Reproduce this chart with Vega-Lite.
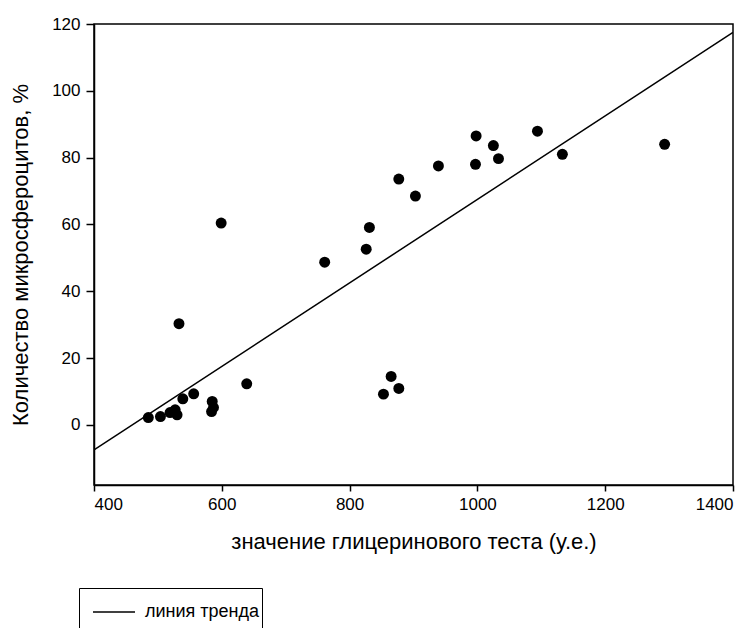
{
  "$schema": "https://vega.github.io/schema/vega-lite/v6.json",
  "width": 639,
  "height": 461,
  "autosize": {"type": "none"},
  "padding": {"left": 94, "top": 24, "right": 22, "bottom": 143},
  "background": "white",
  "config": {
    "view": {"stroke": "black", "strokeWidth": 1.5},
    "font": "Liberation Sans",
    "axis": {
      "grid": false,
      "domainColor": "black",
      "domainWidth": 1.5,
      "tickColor": "black",
      "tickWidth": 1.5,
      "labelColor": "black",
      "titleColor": "black",
      "labelFont": "Liberation Sans",
      "titleFont": "Liberation Sans",
      "labelFontSize": 17,
      "titleFontSize": 22,
      "titleFontWeight": "normal"
    }
  },
  "datasets": {
    "pts": [
      {"x": 485, "y": 2.2}, {"x": 504, "y": 2.5}, {"x": 519, "y": 3.7}, {"x": 527, "y": 4.5},
      {"x": 530, "y": 3.0}, {"x": 533, "y": 30.3}, {"x": 539, "y": 7.8}, {"x": 556, "y": 9.3},
      {"x": 585, "y": 7.0}, {"x": 584, "y": 4.0}, {"x": 587, "y": 5.2}, {"x": 639, "y": 12.3},
      {"x": 853, "y": 9.2}, {"x": 865, "y": 14.5}, {"x": 877, "y": 10.9}, {"x": 599, "y": 60.4},
      {"x": 761, "y": 48.7}, {"x": 826, "y": 52.6}, {"x": 831, "y": 59.1}, {"x": 877, "y": 73.6},
      {"x": 903, "y": 68.5}, {"x": 939, "y": 77.5}, {"x": 998, "y": 86.5}, {"x": 997, "y": 78.0},
      {"x": 1025, "y": 83.6}, {"x": 1033, "y": 79.7}, {"x": 1094, "y": 87.9}, {"x": 1133, "y": 81.0},
      {"x": 1293, "y": 84.0}
    ],
    "trend": [{"x": 400, "y": -7.5}, {"x": 1400, "y": 117.5}]
  },
  "layer": [
    {
      "data": {"name": "trend"},
      "mark": {"type": "line", "strokeWidth": 1.5, "clip": true},
      "encoding": {
        "x": {"field": "x", "type": "quantitative", "scale": {"domain": [400, 1400], "nice": false, "zero": false},
          "axis": {"values": [400, 600, 800, 1000, 1200, 1400], "format": "d", "tickSize": 6, "labelPadding": 5, "title": "значение глицеринового теста (у.е.)", "titlePadding": 19}},
        "y": {"field": "y", "type": "quantitative", "scale": {"domain": [-18, 120], "nice": false, "zero": false},
          "axis": {"values": [0, 20, 40, 60, 80, 100, 120], "format": "d", "tickSize": 8, "labelPadding": 6, "title": "Количество микросфероцитов, %", "titlePadding": 19}},
        "color": {"datum": "линия тренда", "type": "nominal", "scale": {"range": ["black"]},
          "legend": {"title": " ", "titleOrient": "bottom", "titleFontSize": 18, "titlePadding": 6,
            "orient": "none", "legendX": -15, "legendY": 564, "padding": 2, "symbolOffset": 11, "labelOffset": 9,
            "strokeColor": "black", "cornerRadius": 0, "symbolType": "stroke", "symbolSize": 1764, "symbolStrokeWidth": 1.5,
            "labelFontSize": 18, "labelColor": "black", "labelFont": "Liberation Sans", "fillColor": "white"}}
      }
    },
    {
      "data": {"name": "pts"},
      "mark": {"type": "point", "filled": true, "color": "black", "opacity": 1, "size": 120},
      "encoding": {
        "x": {"field": "x", "type": "quantitative"},
        "y": {"field": "y", "type": "quantitative"}
      }
    }
  ]
}
